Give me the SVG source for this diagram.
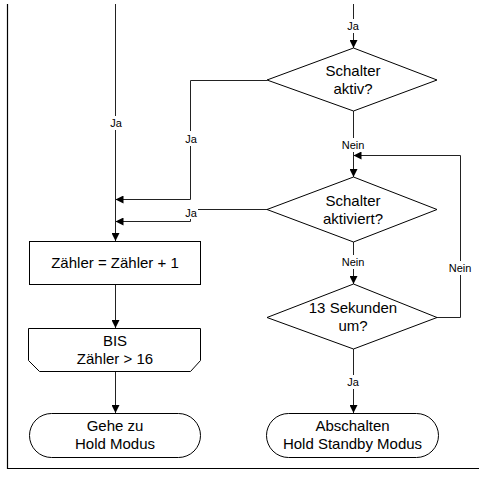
<svg xmlns="http://www.w3.org/2000/svg" width="479" height="479" viewBox="0 0 479 479">
  <style>
    .node { fill: #fff; stroke: #000; stroke-width: 1; }
    .txt { font-family: "Liberation Sans", Arial, sans-serif; font-size: 15px; fill: #000; text-anchor: middle; }
    .lbl { font-family: "Liberation Sans", Arial, sans-serif; font-size: 11px; fill: #000; text-anchor: middle; }
    .edge { fill: none; stroke: #222; stroke-width: 1; }
    .frame { fill: none; stroke: #000; stroke-width: 1.2; }
  </style>
  <defs>
    <marker id="arrow" viewBox="0 0 10 10" refX="10" refY="5" markerWidth="8" markerHeight="8" markerUnits="userSpaceOnUse" orient="auto">
      <path d="M0,0 L10,5 L0,10 z" fill="#000"/>
    </marker>
  </defs>
  <rect width="479" height="479" fill="#fff"/>

  <!-- page frame -->
  <path class="frame" d="M7.5,4 V468.5 H479"/>

  <g id="connectors">
    <!-- left main flow -->
    <path class="edge" d="M115.5,4 V241" marker-end="url(#arrow)"/>
    <rect x="104" y="116" width="24" height="14" fill="#fff"/>
    <text class="lbl" x="116" y="127">Ja</text>

    <!-- into first decision -->
    <path class="edge" d="M353.5,4 V48" marker-end="url(#arrow)"/>
    <rect x="342" y="19" width="24" height="14" fill="#fff"/>
    <text class="lbl" x="353" y="30">Ja</text>

    <!-- Schalter aktiv? : Ja -->
    <path class="edge" d="M267,80.5 H190.5 V199.5 H115.5" marker-end="url(#arrow)"/>
    <rect x="180" y="131" width="22" height="15" fill="#fff"/>
    <text class="lbl" x="191" y="143">Ja</text>

    <!-- Schalter aktiv? : Nein -->
    <path class="edge" d="M353.5,111 V177" marker-end="url(#arrow)"/>
    <rect x="337" y="138" width="32" height="14" fill="#fff"/>
    <text class="lbl" x="353" y="149">Nein</text>

    <!-- Schalter aktiviert? : Ja -->
    <path class="edge" d="M267,209.5 H190.5 V221.5 H115.5" marker-end="url(#arrow)"/>
    <rect x="181" y="205" width="17" height="14" fill="#fff"/>
    <text class="lbl" x="191" y="217">Ja</text>

    <!-- Schalter aktiviert? : Nein -->
    <path class="edge" d="M353.5,242 V284" marker-end="url(#arrow)"/>
    <rect x="337" y="255" width="32" height="14" fill="#fff"/>
    <text class="lbl" x="353" y="266">Nein</text>

    <!-- 13 Sekunden um? : Nein (loop back) -->
    <path class="edge" d="M437,317.5 H460.5 V155.5 H353.5" marker-end="url(#arrow)"/>
    <rect x="444" y="261" width="32" height="14" fill="#fff"/>
    <text class="lbl" x="460" y="272">Nein</text>

    <!-- 13 Sekunden um? : Ja -->
    <path class="edge" d="M353.5,349 V413" marker-end="url(#arrow)"/>
    <rect x="342" y="375" width="24" height="14" fill="#fff"/>
    <text class="lbl" x="353" y="386">Ja</text>

    <!-- counter to loop end to exit -->
    <path class="edge" d="M115.5,284 V328" marker-end="url(#arrow)"/>
    <path class="edge" d="M115.5,371 V413" marker-end="url(#arrow)"/>
  </g>

  <g id="schalter-aktiv">
    <polygon class="node" points="353.5,48 437,80 353.5,111 267,80"/>
    <text class="txt" x="353" y="76">Schalter</text>
    <text class="txt" x="353" y="94">aktiv?</text>
  </g>

  <g id="schalter-aktiviert">
    <polygon class="node" points="353.5,177 437,209.5 353.5,242 267,209.5"/>
    <text class="txt" x="353" y="206">Schalter</text>
    <text class="txt" x="353" y="224">aktiviert?</text>
  </g>

  <g id="sekunden">
    <polygon class="node" points="353.5,284 437,317.5 353.5,349 267,317.5"/>
    <text class="txt" x="353" y="313">13 Sekunden</text>
    <text class="txt" x="353" y="331">um?</text>
  </g>

  <g id="abschalten">
    <rect class="node" x="266.5" y="413.5" width="172" height="44" rx="22" ry="22"/>
    <text class="txt" x="352.5" y="431">Abschalten</text>
    <text class="txt" x="352.5" y="449">Hold Standby Modus</text>
  </g>

  <g id="zaehler">
    <rect class="node" x="29.5" y="241.5" width="171" height="43"/>
    <text class="txt" x="115" y="268">Zähler = Zähler + 1</text>
  </g>

  <g id="bis">
    <path class="node" d="M28.5,328.5 H200.5 V360.5 L190.5,371.5 H39.5 L28.5,360.5 Z"/>
    <text class="txt" x="115" y="346">BIS</text>
    <text class="txt" x="115" y="364">Zähler &gt; 16</text>
  </g>

  <g id="hold-modus">
    <rect class="node" x="29.5" y="413.5" width="171" height="44" rx="22" ry="22"/>
    <text class="txt" x="115" y="431">Gehe zu</text>
    <text class="txt" x="115" y="449">Hold Modus</text>
  </g>
</svg>
